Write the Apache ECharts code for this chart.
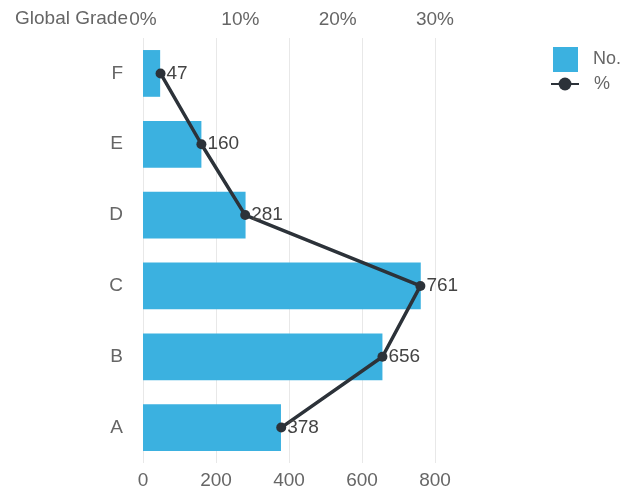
<!DOCTYPE html>
<html>
<head>
<meta charset="utf-8">
<script src="https://cdn.jsdelivr.net/npm/echarts@6/dist/echarts.min.js"></script>
<style>html,body{margin:0;padding:0;background:#fff}#c{width:643px;height:503px}</style>
</head>
<body>
<div id="c"></div>
<script>
var grades = ['A', 'B', 'C', 'D', 'E', 'F'];
var counts = [378, 656, 761, 281, 160, 47];
var percents = [14.2, 24.6, 28.5, 10.5, 6.0, 1.8];
var countTicks = [0, 200, 400, 600, 800];
var percentTicks = [0, 10, 20, 30];

var chart = echarts.init(document.getElementById('c'));
var font = '"Liberation Sans", Arial, sans-serif';
var fs = 19;
chart.setOption({
  animation: false,
  textStyle: { fontFamily: font },
  legend: [{
    orient: 'vertical', left: 548, top: 42, itemWidth: 25, itemHeight: 25,
    textStyle: { fontSize: 18, color: '#666', fontFamily: font, padding: [0, 0, 0, 10] },
    data: [{ name: 'No.', icon: 'rect' }]
  }, {
    orient: 'vertical', left: 545, top: 70, itemWidth: 28, itemHeight: 16,
    textStyle: { fontSize: 18, color: '#666', fontFamily: font, padding: [0, 0, 0, 10] },
    data: [{ name: '%' }]
  }],
  grid: { left: 143, right: 208, top: 38, bottom: 40, containLabel: false, outerBoundsMode: 'none' },
  xAxis: [{
    type: 'value', position: 'bottom', min: countTicks[0], max: countTicks[countTicks.length - 1], interval: 200,
    axisLine: { show: false }, axisTick: { show: false },
    axisLabel: { color: '#666', fontSize: fs, margin: 8, fontFamily: font },
    splitLine: { show: true, lineStyle: { color: '#e8e8e8', width: 1 } }
  }, {
    type: 'value', position: 'top', min: percentTicks[0], max: percentTicks[percentTicks.length - 1], interval: 10,
    axisLine: { show: false }, axisTick: { show: false },
    axisLabel: { color: '#666', fontSize: fs, margin: 9, formatter: '{value}%', fontFamily: font },
    splitLine: { show: false }
  }],
  yAxis: {
    type: 'category', data: grades,
    name: 'Global Grade', nameLocation: 'end', nameGap: 19, nameMoveOverlap: false,
    nameTextStyle: { color: '#666', fontSize: fs, align: 'right', verticalAlign: 'middle', padding: [0, 15, 0, 0], fontFamily: font },
    axisLine: { show: false }, axisTick: { show: false },
    axisLabel: { color: '#666', fontSize: fs, margin: 20, fontFamily: font }
  },
  series: [{
    name: 'No.', type: 'bar', xAxisIndex: 0, data: counts, barWidth: '66%',
    itemStyle: { color: '#3bb1e0' }
  }, {
    name: '%', type: 'line', xAxisIndex: 1, data: percents,
    symbol: 'circle', symbolSize: 10,
    lineStyle: { color: '#2c3239', width: 3.5 },
    itemStyle: { color: '#2c3239' },
    label: {
      show: true, position: 'right', distance: 1, color: '#444', fontSize: fs, fontFamily: font,
      formatter: function (p) { return counts[p.dataIndex]; }
    }
  }]
});
</script>
</body>
</html>
